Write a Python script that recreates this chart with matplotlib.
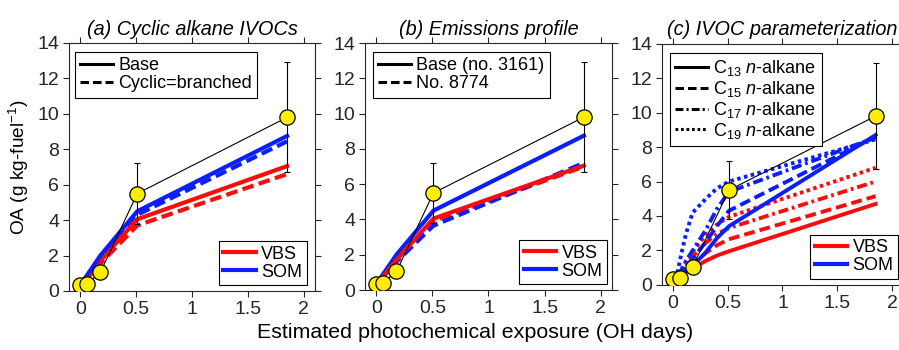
import matplotlib
matplotlib.use("Agg")
import matplotlib.pyplot as plt
from matplotlib.lines import Line2D

plt.rcParams['font.family'] = ['Liberation Sans', 'DejaVu Sans']
plt.rcParams['mathtext.fontset'] = 'custom'
plt.rcParams['mathtext.rm'] = 'Liberation Sans'
plt.rcParams['mathtext.it'] = 'Liberation Sans:italic'

# observations (same in all panels)
obs_x = [0.0, 0.06, 0.18, 0.51, 1.85]
obs_y = [0.35, 0.4, 1.05, 5.5, 9.8]
obs_err = [0.0, 0.0, 0.0, 1.7, 3.1]

# panels (a) and (b): model OA
model_x = [0.04, 0.18, 0.51, 1.85]
vbs_base = [0.6, 1.7, 4.05, 7.05]
som_base = [0.7, 2.0, 4.5, 8.75]
vbs_cyclic = [0.55, 1.55, 3.7, 6.6]
som_cyclic = [0.65, 1.9, 4.3, 8.45]
vbs_8774 = [0.6, 1.65, 3.9, 7.0]
som_8774 = [0.6, 1.6, 3.65, 7.2]

# panel (c): IVOC parameterization
c_x = [0.04, 0.08, 0.12, 0.18, 0.3, 0.4, 0.51, 1.85]
vbs_c13 = [0.5, 0.6, 0.75, 0.95, 1.4, 1.7, 1.95, 4.7]
vbs_c15 = [0.5, 0.7, 0.95, 1.25, 1.85, 2.3, 2.65, 5.15]
vbs_c17 = [0.5, 0.8, 1.2, 1.65, 2.45, 2.95, 3.3, 6.0]
vbs_c19 = [0.55, 0.9, 1.4, 1.95, 2.9, 3.5, 3.95, 6.8]
som_c13 = [0.5, 0.6, 0.8, 1.1, 1.9, 2.7, 3.4, 8.7]
som_c15 = [0.55, 0.75, 1.1, 1.5, 2.5, 3.4, 4.3, 8.6]
som_c17 = [0.6, 0.9, 1.4, 2.0, 3.2, 4.4, 5.4, 8.55]
som_c19 = [0.7, 1.9, 3.0, 4.2, 5.0, 5.6, 6.0, 8.45]

c_labels = [r'C$_{13}$ $\mathit{n}$-alkane', r'C$_{15}$ $\mathit{n}$-alkane',
            r'C$_{17}$ $\mathit{n}$-alkane', r'C$_{19}$ $\mathit{n}$-alkane']

RED = '#ff0a0a'
BLUE = '#0a1eff'
AXCOL = '#262626'
STYLES = ['-', (0, (2.8, 1.3)), (0, (2.6, 1.0, 0.7, 1.0)), (0, (0.9, 0.9))]


def style_axes(ax, title):
    ax.set_xlim(-0.1, 2.1)
    ax.set_ylim(0, 14)
    ax.set_xticks([0, 0.5, 1, 1.5, 2])
    ax.set_xticklabels(['0', '0.5', '1', '1.5', '2'])
    ax.set_yticks(range(0, 15, 2))
    ax.tick_params(direction='out', top=True, right=True, length=4, width=0.8,
                   labelsize=14, colors=AXCOL, pad=3)
    for s in ax.spines.values():
        s.set_color(AXCOL)
        s.set_linewidth(0.8)
    ax.set_title(title, fontstyle='italic', fontsize=14.3, pad=6)


def plot_obs(ax):
    ax.plot(obs_x, obs_y, color='k', lw=0.8, zorder=5)
    ax.errorbar(obs_x[3:], obs_y[3:], yerr=obs_err[3:], fmt='none', ecolor='k',
                elinewidth=0.8, capsize=2.5, capthick=0.8, zorder=5)
    ax.plot(obs_x, obs_y, 'o', ms=11, mfc='#ffee00', mec='k', mew=0.9, zorder=6)


def add_legends(ax, style_handles, style_labels, upper_anchor, lower_anchor):
    leg1 = ax.legend(style_handles, style_labels, loc='upper left',
                     bbox_to_anchor=upper_anchor, fontsize=13, frameon=True,
                     fancybox=False, edgecolor='k', framealpha=1,
                     handlelength=1.8, handletextpad=0.3, labelspacing=0.05,
                     borderpad=0.3, borderaxespad=0)
    leg1.get_frame().set_linewidth(0.8)
    ax.add_artist(leg1)
    hs = [Line2D([], [], color=RED, lw=3), Line2D([], [], color=BLUE, lw=3)]
    leg2 = ax.legend(hs, ['VBS', 'SOM'], loc='lower right', bbox_to_anchor=lower_anchor,
                     fontsize=13, frameon=True, fancybox=False, edgecolor='k',
                     framealpha=1, handlelength=1.8, handletextpad=0.3,
                     labelspacing=0.05, borderpad=0.25, borderaxespad=0)
    leg2.get_frame().set_linewidth(0.8)


fig = plt.figure(figsize=(8.99, 3.5), dpi=100)
ax_a = fig.add_axes([0.0768, 0.1686, 0.2736, 0.7086])
ax_b = fig.add_axes([0.406, 0.1714, 0.2747, 0.7057])
ax_c = fig.add_axes([0.7364, 0.186, 0.268, 0.689])

# (a)
ax_a.plot(model_x, vbs_cyclic, color=RED, lw=3, ls=STYLES[1])
ax_a.plot(model_x, som_cyclic, color=BLUE, lw=3, ls=STYLES[1])
ax_a.plot(model_x, vbs_base, color=RED, lw=3)
ax_a.plot(model_x, som_base, color=BLUE, lw=3)
plot_obs(ax_a)
style_axes(ax_a, '(a) Cyclic alkane IVOCs')
ax_a.set_ylabel('OA (g kg-fuel$^{-1}$)', fontsize=13.8, labelpad=5)
add_legends(ax_a, [Line2D([], [], color='k', lw=2.2),
                   Line2D([], [], color='k', lw=2.2, ls=STYLES[1])],
            ['Base', 'Cyclic=branched'], (0.024, 0.964), (0.967, 0.024))

# (b)
ax_b.plot(model_x, vbs_8774, color=RED, lw=3, ls=STYLES[1])
ax_b.plot(model_x, som_8774, color=BLUE, lw=3, ls=STYLES[1])
ax_b.plot(model_x, som_base, color=BLUE, lw=3)
ax_b.plot(model_x, vbs_base, color=RED, lw=3)
plot_obs(ax_b)
style_axes(ax_b, '(b) Emissions profile')
add_legends(ax_b, [Line2D([], [], color='k', lw=2.2),
                   Line2D([], [], color='k', lw=2.2, ls=STYLES[1])],
            ['Base (no. 3161)', 'No. 8774'], (0.032, 0.964), (0.98, 0.024))

# (c)
for ys, st in zip([vbs_c13, vbs_c15, vbs_c17, vbs_c19], STYLES):
    ax_c.plot(c_x, ys, color=RED, lw=2.8, ls=st)
for ys, st in zip([som_c13, som_c15, som_c17, som_c19], STYLES):
    ax_c.plot(c_x, ys, color=BLUE, lw=2.8, ls=st)
plot_obs(ax_c)
style_axes(ax_c, '(c) IVOC parameterization')
add_legends(ax_c, [Line2D([], [], color='k', lw=2.2, ls=st) for st in STYLES],
            c_labels, (0.033, 0.963), (0.98, 0.025))

fig.text(0.528, 0.022, 'Estimated photochemical exposure (OH days)', ha='center',
         va='bottom', fontsize=15.4, color='k')

fig.savefig('out.png', dpi=100)
